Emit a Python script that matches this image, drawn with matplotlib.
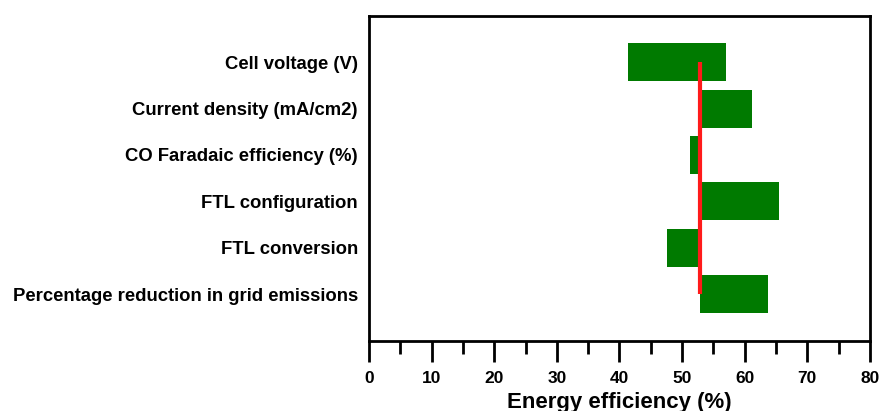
import numpy as np
import matplotlib
matplotlib.use("Agg")
import matplotlib.pyplot as plt
from matplotlib.ticker import MultipleLocator

# ================================ DATA ================================
factors = ['Cell voltage (V)', 'Current density (mA/cm2)', 'CO Faradaic efficiency (%)',
           'FTL configuration', 'FTL conversion', 'Percentage reduction in grid emissions']
low_values = [41.3, 52.9, 51.2, 52.9, 47.6, 52.9]
high_values = [57.0, 61.2, 52.9, 65.5, 52.9, 63.7]
base_value = 52.9

plt.rcParams['font.family'] = ['Liberation Sans', 'DejaVu Sans']
plt.rcParams['font.weight'] = 'bold'

fig = plt.figure(figsize=(8.81, 4.11), dpi=100)
ax = fig.add_axes([0.4188, 0.171, 0.5687, 0.7908])

y = np.arange(len(factors))
widths = np.array(high_values) - np.array(low_values)
ax.barh(y, widths, left=low_values, height=0.82, color='#007a00', edgecolor='none')

# baseline
ax.plot([base_value, base_value], [y[0], y[-1]], color='#ff1a1a', linewidth=3, solid_capstyle='butt')

ax.set_xlim(0, 80)
ax.set_ylim(len(factors), -1)
ax.set_yticks(y)
ax.set_yticklabels(factors, fontsize=13.3, fontweight='bold')
ax.tick_params(axis='y', length=0, pad=8)

ax.xaxis.set_major_locator(MultipleLocator(10))
ax.xaxis.set_minor_locator(MultipleLocator(5))
ax.tick_params(axis='x', which='major', direction='out', length=15, width=2, labelsize=12.5, pad=7)
ax.tick_params(axis='x', which='minor', direction='out', length=9, width=2)
for lab in ax.get_xticklabels():
    lab.set_fontweight('bold')

for sp in ax.spines.values():
    sp.set_linewidth(2)

ax.set_xlabel('Energy efficiency (%)', fontsize=16, fontweight='bold', labelpad=4)

fig.savefig('out.png', dpi=100)
